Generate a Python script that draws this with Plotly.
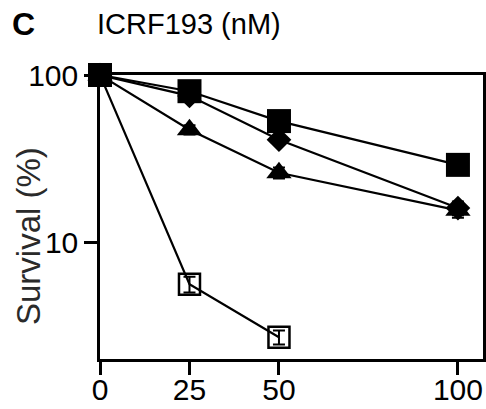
import math
import plotly.graph_objects as go

# ICRF193 dose (nM)
doses = [0, 25, 50, 100]
doses_short = [0, 25, 50]

# Survival (%) for each line
surv_square = [100, 80, 53, 29]
surv_diamond = [100, 75, 41, 16]
surv_triangle = [100, 47, 26, 15.5]
surv_open = [100, 5.6, 2.7]

# error (SD) on survival
err_square = [0, 0, 0, 0]
err_diamond = [0, 2, 2, 1.5]
err_triangle = [0, 3, 2, 1.5]
err_open = [0, 0.6, 0.26]

x_ticks = [0, 25, 50, 100]
y_ticks = [10, 100]
y_tick_text = ["10", "100"]

FONT = "Liberation Sans, Arial, sans-serif"
LW = 2.2

fig = go.Figure()


def add_series(x, y, err, symbol, size, name, line_w=0):
    fig.add_trace(go.Scatter(
        x=x, y=y, name=name, mode="lines+markers",
        line=dict(color="black", width=LW),
        marker=dict(symbol=symbol, size=size, color="black",
                    line=dict(color="black", width=line_w)),
        error_y=dict(type="data", array=err, visible=True,
                     color="black", thickness=2, width=6),
        cliponaxis=False, showlegend=False,
    ))


add_series(doses, surv_triangle, err_triangle, "triangle-up", 22, "triangle")
add_series(doses, surv_diamond, err_diamond, "diamond", 19, "diamond")
add_series(doses, surv_square, err_square, "square", 24, "square")
add_series(doses_short, surv_open, err_open, "square-open", 21, "open square", line_w=2.5)

axis_common = dict(
    showline=True, linecolor="black", linewidth=2.5, mirror=True,
    ticks="outside", ticklen=13, tickwidth=2.5, tickcolor="black",
    showgrid=False, zeroline=False, automargin=False,
    tickfont=dict(family=FONT, size=30, color="black"),
)

fig.update_xaxes(range=[0, 107], tickvals=x_ticks,
                 ticklabelstandoff=-11, **axis_common)
fig.update_yaxes(type="log", range=[math.log10(2), 2],
                 tickvals=y_ticks, ticktext=y_tick_text, **axis_common)

fig.add_annotation(text="Survival (%)", xref="paper", yref="paper",
                   x=-0.188, y=0.433, textangle=-90, showarrow=False,
                   xanchor="center", yanchor="middle",
                   font=dict(family=FONT, size=33, color="#2a2a2a"))
fig.add_annotation(text="<b>C</b>", xref="paper", yref="paper",
                   x=-0.201, y=1.18, showarrow=False,
                   xanchor="center", yanchor="middle",
                   font=dict(family=FONT, size=32, color="black"))
fig.add_annotation(text="ICRF193 (nM)", xref="paper", yref="paper",
                   x=-0.013, y=1.18, showarrow=False,
                   xanchor="left", yanchor="middle",
                   font=dict(family=FONT, size=29, color="black"))

fig.update_layout(
    template="none",
    width=486, height=409,
    margin=dict(l=100, r=3, t=75, b=50),
    paper_bgcolor="white", plot_bgcolor="white",
    font=dict(family=FONT),
)

fig.write_html("out.html")
